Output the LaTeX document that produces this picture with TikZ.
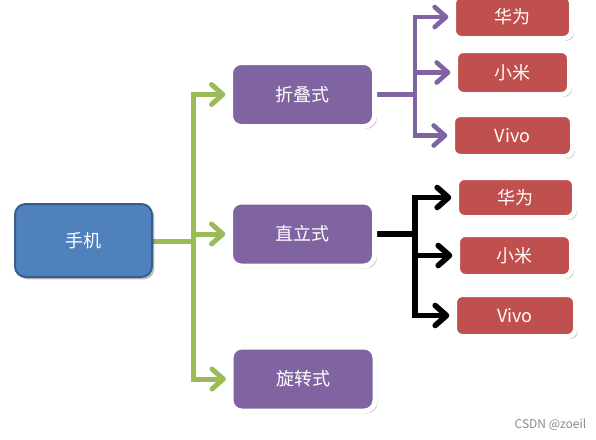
\documentclass[tikz,border=0pt]{standalone}
\usepackage{fontspec}
\setmainfont{Noto Sans CJK SC}
\usetikzlibrary{arrows.meta,shadows}
\definecolor{boxblue}{HTML}{4F81BD}
\definecolor{boxblueb}{HTML}{385D8A}
\definecolor{boxpurple}{HTML}{8064A2}
\definecolor{boxred}{HTML}{C0504D}
\definecolor{lgreen}{HTML}{9BBB59}
\definecolor{wmgray}{HTML}{8A8A8A}
\pgfdeclarelayer{bg}
\pgfsetlayers{bg,main}
\begin{document}
\begin{tikzpicture}[x=0.75pt,y=-0.75pt,
  >={Straight Barb[length=8.5pt,width=15pt,round]},
  base/.style={inner sep=0pt, text=white, font=\fontsize{13.5}{15}\selectfont},
  shad/.style={drop shadow={shadow xshift=1.8pt,shadow yshift=-1.8pt,opacity=0.25,fill=black}},
  phonebox/.style={base, shad, rounded corners=8pt, fill=boxblue, draw=boxblueb, line width=1.5pt,
     minimum width=102.75pt, minimum height=54.75pt},
  pbox/.style={base, shad, rounded corners=8pt, fill=boxpurple, draw=white, line width=3.75pt,
     minimum width=108pt, minimum height=48pt},
  rbox/.style={base, shad, rounded corners=6pt, fill=boxred, draw=white, line width=3.75pt},
  gline/.style={draw=lgreen, line width=3.75pt},
  pline/.style={draw=boxpurple, line width=3.5pt},
  bline/.style={draw=black, line width=4.2pt},
]
\useasboundingbox (0,0) rectangle (596,439);

\node[phonebox] (phone) at (83.5,240.5) {手机};
\node[pbox] (fold) at (302.5,94.5) {折叠式};
\node[pbox] (upr) at (302.5,234) {直立式};
\node[pbox] (rot) at (303,379) {旋转式};

\node[rbox, minimum width=88.5pt, minimum height=32.25pt] (f1) at (512.5,17) {华为};
\node[rbox, minimum width=85.5pt, minimum height=33pt] (f2) at (512.5,72.5) {小米};
\node[rbox, minimum width=90pt, minimum height=31.5pt] (f3) at (512.5,135.5) {Vivo};

\node[rbox, minimum width=88.5pt, minimum height=30pt] (u1) at (515.5,197.5) {华为};
\node[rbox, minimum width=85.5pt, minimum height=31.5pt] (u2) at (514.5,255.5) {小米};
\node[rbox, minimum width=90.75pt, minimum height=31.5pt] (u3) at (515,315.5) {Vivo};

\node[font=\fontsize{9}{11}\selectfont, text=wmgray, inner sep=0pt] (wm) at (550.5,425) {CSDN @zoeil};

\begin{pgfonlayer}{bg}
  \fill[white] (0,0) rectangle (596,439);
  % green
  \coordinate (g) at (193,241);
  \draw[gline] (phone.east |- g) -- (g);
  \draw[gline,<->,shorten <=2pt,shorten >=2pt] (fold.west) -| (g) |- (rot.west);
  \draw[gline,->,shorten >=2pt] (g |- upr.west) -- (upr.west);
  % purple
  \coordinate (p) at (415,94.5);
  \draw[pline] (fold.east) -- (p);
  \draw[pline,<->,shorten <=2pt,shorten >=2pt] (f1.west) -| (p) |- (f3.west);
  \draw[pline,->,shorten >=2pt] (p |- f2.west) -- (f2.west);
  % black
  \coordinate (b) at (415,234);
  \draw[bline] (upr.east) -- (b);
  \draw[bline,<->,shorten <=2pt,shorten >=2pt] (u1.west) -| (b) |- (u3.west);
  \draw[bline,->,shorten >=2pt] (b |- u2.west) -- (u2.west);
\end{pgfonlayer}
\end{tikzpicture}
\end{document}
